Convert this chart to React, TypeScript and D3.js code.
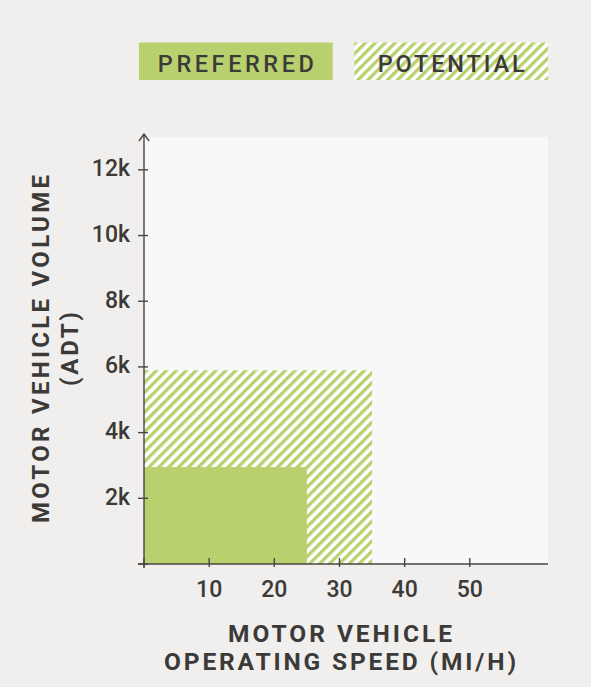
import * as d3 from "d3";

// zones: max operating speed (mi/h) and max volume (ADT)
const zones = ["PREFERRED", "POTENTIAL"];
const zoneSpeed = [25, 35];
const zoneVolume = [2950, 5900];

const speedTicks = [10, 20, 30, 40, 50];
const volumeTicks = [2000, 4000, 6000, 8000, 10000, 12000];
const volumeLabels = ["2k", "4k", "6k", "8k", "10k", "12k"];

const xTitle = ["MOTOR VEHICLE", "OPERATING SPEED (MI/H)"];
const yTitle = ["MOTOR VEHICLE VOLUME", "(ADT)"];

const W = 591;
const H = 687;
const GREEN = "#b8d16e";
const INK = "#3c3a38";
const AXIS = "#4a4541";
const FONT = "Roboto, 'DejaVu Sans', sans-serif";

export default function App() {
  const x = d3.scaleLinear().domain([0, 62]).range([144, 548]);
  const y = d3.scaleLinear().domain([0, 13000]).range([564, 137]);
  const legend = d3.scaleBand().domain(zones).range([139, 548]).paddingInner(0.1);

  const fills = [GREEN, "url(#hatch)"];
  // draw the bigger zone first so preferred sits on top
  const order = d3.range(zones.length).reverse();

  return (
    <div style={{ position: "absolute", left: 0, top: 0 }}>
      <svg width={W} height={H} style={{ display: "block" }}>
        <defs>
          <pattern
            id="hatch"
            patternUnits="userSpaceOnUse"
            width={7}
            height={7}
            patternTransform="rotate(45)"
          >
            <rect width={7} height={7} fill="#ffffff" />
            <rect width={3.3} height={7} fill={GREEN} />
          </pattern>
        </defs>
        <rect width={W} height={H} fill="#f0efed" />

        {/* legend */}
        {zones.map((z, i) => (
          <g key={z}>
            <rect x={legend(z)} y={42.5} width={legend.bandwidth()} height={37.5} fill={fills[i]} />
            <text
              x={legend(z)! + legend.bandwidth() / 2}
              y={71.5}
              textAnchor="middle"
              fontFamily={FONT}
              fontWeight={500}
              fontSize={23.5}
              fill={INK}
              textLength={i === 0 ? 156 : 147}
              lengthAdjust="spacing"
            >
              {z}
            </text>
          </g>
        ))}

        {/* plot area */}
        <rect x={x(0)} y={y(13000)} width={x(62) - x(0)} height={y(0) - y(13000)} fill="#f8f8f8" />

        {order.map(i => (
          <rect
            key={zones[i]}
            x={x(0)}
            y={y(zoneVolume[i])}
            width={x(zoneSpeed[i]) - x(0)}
            height={y(0) - y(zoneVolume[i])}
            fill={fills[i]}
          />
        ))}

        {/* axes */}
        <g stroke={AXIS} strokeWidth={1.4} fill="none">
          <line x1={x(0)} x2={x(0)} y1={134} y2={568} />
          <line x1={138} x2={x(62)} y1={y(0)} y2={y(0)} />
          <path d={`M${x(0) - 5},${141} L${x(0)},${134} L${x(0) + 5},${141}`} />
          {[0, ...volumeTicks].map(v => (
            <line key={v} x1={x(0) - 6} x2={x(0) + 4} y1={y(v)} y2={y(v)} />
          ))}
          {[0, ...speedTicks].map(s => (
            <line key={s} x1={x(s)} x2={x(s)} y1={y(0) - 6} y2={y(0) + 3} />
          ))}
        </g>

        {volumeTicks.map((v, i) => (
          <text
            key={v}
            x={130}
            y={y(v) + 6.5}
            textAnchor="end"
            fontFamily={FONT}
            fontWeight={500}
            fontSize={23}
            fill={INK}
          >
            {volumeLabels[i]}
          </text>
        ))}
        {speedTicks.map(s => (
          <text
            key={s}
            x={x(s)}
            y={597}
            textAnchor="middle"
            fontFamily={FONT}
            fontWeight={500}
            fontSize={23}
            fill={INK}
          >
            {s}
          </text>
        ))}

        {/* axis titles */}
        {xTitle.map((t, i) => (
          <text
            key={t}
            x={340}
            y={642 + i * 27.5}
            textAnchor="middle"
            fontFamily={FONT}
            fontWeight={700}
            fontSize={24.5}
            fill={INK}
            textLength={i === 0 ? 224 : 352}
            lengthAdjust="spacing"
          >
            {t}
          </text>
        ))}
        {yTitle.map((t, i) => (
          <text
            key={t}
            transform={`translate(${i === 0 ? 48.5 : 77.5},349) rotate(-90)`}
            textAnchor="middle"
            fontFamily={FONT}
            fontWeight={700}
            fontSize={24}
            fill={INK}
            textLength={i === 0 ? 348 : 74}
            lengthAdjust="spacing"
          >
            {t}
          </text>
        ))}
      </svg>
    </div>
  );
}
